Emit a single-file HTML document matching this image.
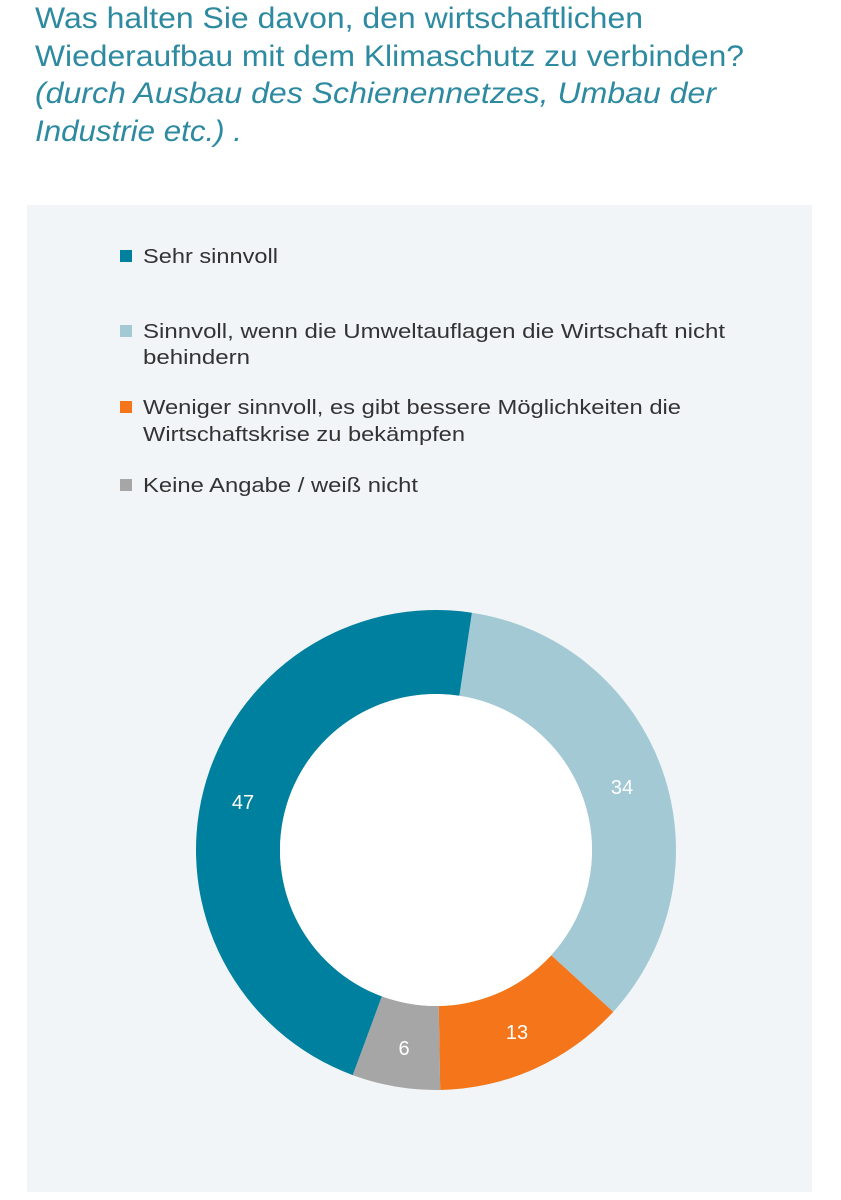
<!DOCTYPE html>
<html><head><meta charset="utf-8"><style>
html,body{margin:0;padding:0;background:#fff;}
svg{display:block;}
</style></head><body>
<svg width="841" height="1200" viewBox="0 0 841 1200" xmlns="http://www.w3.org/2000/svg" font-family="Liberation Sans, Arial, sans-serif">
<rect width="841" height="1200" fill="#fff"/>
<g fill="#2d8aa0" font-size="30">
<text x="35" y="28" textLength="608" lengthAdjust="spacingAndGlyphs">Was halten Sie davon, den wirtschaftlichen</text>
<text x="35" y="66" textLength="709" lengthAdjust="spacingAndGlyphs">Wiederaufbau mit dem Klimaschutz zu verbinden?</text>
<text x="35" y="103" font-style="italic" textLength="681" lengthAdjust="spacingAndGlyphs">(durch Ausbau des Schienennetzes, Umbau der</text>
<text x="35" y="141" font-style="italic" textLength="207" lengthAdjust="spacingAndGlyphs">Industrie etc.) .</text>
</g>
<rect x="27" y="205" width="785" height="987" fill="#f1f5f8"/>
<g font-size="20" fill="#333">
<rect x="120" y="250" width="12" height="12" fill="#00809f"/>
<text x="143" y="263" textLength="135" lengthAdjust="spacingAndGlyphs">Sehr sinnvoll</text>
<rect x="120" y="325" width="12" height="12" fill="#a3cad4"/>
<text x="143" y="338" textLength="582" lengthAdjust="spacingAndGlyphs">Sinnvoll,  wenn die Umweltauflagen die Wirtschaft nicht</text>
<text x="143" y="364" textLength="107" lengthAdjust="spacingAndGlyphs">behindern</text>
<rect x="120" y="401" width="12" height="12" fill="#f5761a"/>
<text x="143" y="414" textLength="538" lengthAdjust="spacingAndGlyphs">Weniger sinnvoll, es gibt bessere Möglichkeiten die</text>
<text x="143" y="441" textLength="322" lengthAdjust="spacingAndGlyphs">Wirtschaftskrise zu bekämpfen</text>
<rect x="120" y="479" width="12" height="12" fill="#a6a6a6"/>
<text x="143" y="492" textLength="275" lengthAdjust="spacingAndGlyphs">Keine Angabe / weiß nicht</text>
</g>
<g id="donut"></g>
<g font-size="20" fill="#fff" text-anchor="middle">
<text x="243" y="809">47</text>
<text x="622" y="794">34</text>
<text x="517" y="1039">13</text>
<text x="404" y="1055">6</text>
</g>
<script>
(function(){
var cx=436,cy=850,R=240,r=156;
var segs=[[8.6,132.4,"#a3cad4"],[132.4,179,"#f5761a"],[179,200.3,"#a6a6a6"],[200.3,368.6,"#00809f"]];
function p(a,rad){var t=a*Math.PI/180;return [cx+rad*Math.sin(t),cy-rad*Math.cos(t)];}
var g=document.getElementById("donut"),ns="http://www.w3.org/2000/svg";
segs.forEach(function(s){
var a=s[0],b=s[1],l=(b-a)>180?1:0;
var p1=p(a,R),p2=p(b,R),p3=p(b,r),p4=p(a,r);
var d="M"+p1+"A"+R+","+R+" 0 "+l+" 1 "+p2+"L"+p3+"A"+r+","+r+" 0 "+l+" 0 "+p4+"Z";
var e=document.createElementNS(ns,"path");e.setAttribute("d",d);e.setAttribute("fill",s[2]);g.appendChild(e);
});
var c=document.createElementNS(ns,"circle");c.setAttribute("cx",cx);c.setAttribute("cy",cy);c.setAttribute("r",r);c.setAttribute("fill","#fff");g.appendChild(c);
})();
</script>
</svg>
</body></html>
